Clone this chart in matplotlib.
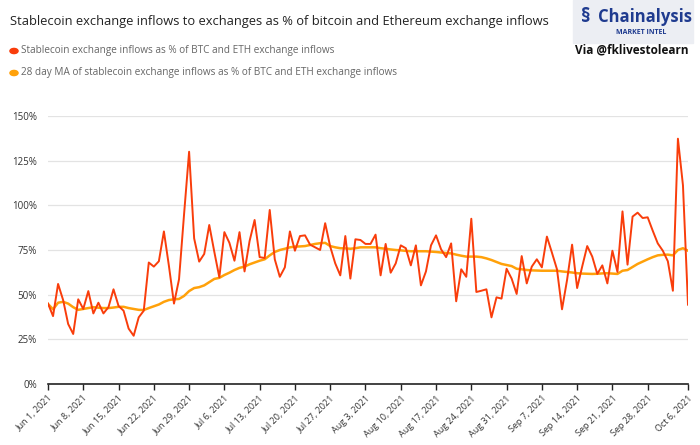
import matplotlib
matplotlib.use("Agg")
import matplotlib.pyplot as plt
import numpy as np
import pandas as pd
from matplotlib.patches import Rectangle, Circle

plt.rcParams['font.family'] = ['Open Sans', 'DejaVu Sans']

start_date = "2021-06-01"
inflow_pct = [45, 38, 56, 47, 33.6, 28, 47.4, 42, 52, 39.5, 45.5, 39.5, 43, 53, 43.7, 41,
              31, 27, 37.3, 41, 68, 65.7, 68.7, 85.4, 66, 45, 58.6, 95, 130, 81.5, 68.5, 72.8,
              89, 74, 59.7, 85, 79, 69, 85, 63, 80, 91.8, 71, 70.5, 97.4, 69.8, 60, 65.3,
              85.4, 74.6, 82.8, 83.2, 78, 76.5, 75, 90, 76.9, 67.5, 60.8, 82.8, 59, 81, 80.6, 78.4,
              78.4, 83.6, 60.8, 78.4, 62.3, 67.5, 77.6, 76, 66.4, 77.6, 55.2, 63, 77.6, 83.2, 75.4, 71,
              78.7, 46.3, 64.2, 60, 92.5, 51.5, 52.2, 53, 37.3, 48.5, 47.8, 64.5, 59, 50.4, 71.6, 56.3,
              65.7, 69.8, 65.3, 82.5, 73.5, 64.2, 41.8, 58.2, 78, 53.7, 65.7, 77.2, 71.3, 61.6, 66.4, 56.3,
              74.6, 62.7, 96.6, 66.8, 93.7, 95.9, 92.9, 93.3, 85.8, 78.7, 74.6, 68.7, 52.2, 137.3, 111.2, 44.4]
ma28_pct = [44.8, 41.8, 45.5, 46, 45, 43, 41.5, 42, 42.5, 43, 42.7, 42.5, 42.5, 42.8, 43.2, 43.2,
            42.5, 42, 41.5, 41.4, 42.5, 43.5, 44.5, 46, 47, 47.4, 47.6, 49.3, 52, 53.7, 54.2, 55.2,
            57, 58.8, 59.4, 61, 62.3, 63.8, 65, 65.7, 67, 68, 69, 69.8, 72, 73.9, 75, 75.7,
            76.5, 76.9, 77, 77.2, 77.8, 78.4, 78.8, 79, 77.2, 76.5, 76, 75.9, 75.7, 76, 76.5, 76.5,
            76.5, 76.5, 76, 75.7, 75.3, 75, 74.8, 74.5, 74.3, 74.3, 74.3, 74.3, 74.1, 73.9, 73.6, 73.3,
            73.1, 72.4, 71.8, 71.3, 71.3, 71.3, 71, 70.3, 69.4, 68.3, 67.2, 66.6, 66, 64.5, 64.2, 63.8,
            63.6, 63.5, 63.4, 63.4, 63.4, 63.4, 63, 62.7, 62.4, 62, 61.8, 61.7, 61.6, 61.7, 61.9, 62,
            61.8, 61.6, 63.4, 63.8, 65.5, 67.2, 68.5, 69.8, 71, 72, 72.3, 72.4, 72, 75, 76, 74.6]
y_ticks = [0, 25, 50, 75, 100, 125, 150]
x_tick_labels = ["Jun 1, 2021", "Jun 8, 2021", "Jun 15, 2021", "Jun 22, 2021", "Jun 29, 2021",
                 "Jul 6, 2021", "Jul 13, 2021", "Jul 20, 2021", "Jul 27, 2021", "Aug 3, 2021",
                 "Aug 10, 2021", "Aug 17, 2021", "Aug 24, 2021", "Aug 31, 2021", "Sep 7, 2021",
                 "Sep 14, 2021", "Sep 21, 2021", "Sep 28, 2021", "Oct 6, 2021"]
x_tick_dates = ["2021-06-01", "2021-06-08", "2021-06-15", "2021-06-22", "2021-06-29",
                "2021-07-06", "2021-07-13", "2021-07-20", "2021-07-27", "2021-08-03",
                "2021-08-10", "2021-08-17", "2021-08-24", "2021-08-31", "2021-09-07",
                "2021-09-14", "2021-09-21", "2021-09-28", "2021-10-06"]

dates = pd.date_range(start_date, periods=len(inflow_pct), freq="D")
tick_pos = pd.to_datetime(x_tick_dates)

RED = "#f93d0b"
ORANGE = "#ffa10a"

fig = plt.figure(figsize=(7, 4.45), dpi=100)
ax = fig.add_axes([48/700, (445-384)/445, 640/700, 268/445])

ax.plot(dates, ma28_pct, color=ORANGE, lw=1.8, zorder=3, solid_joinstyle='round')
ax.plot(dates, inflow_pct, color=RED, lw=1.4, zorder=4, solid_joinstyle='round')

ax.set_xlim(dates[0], dates[-1])
ax.set_ylim(0, 150)
ax.set_yticks(y_ticks)
ax.set_yticklabels([f"{v}%" for v in y_ticks], fontsize=7, color="#333333")
ax.tick_params(axis='y', length=0, pad=8)
ax.grid(axis='y', color="#e3e3e3", lw=0.9)
ax.set_axisbelow(True)

ax.set_xticks(tick_pos)
ax.set_xticklabels(x_tick_labels, rotation=45, ha='right', rotation_mode='anchor',
                   fontsize=6.5, color="#333333")
ax.tick_params(axis='x', length=4, width=1, color="#222222", pad=3)

for s in ['top', 'right', 'left']:
    ax.spines[s].set_visible(False)
ax.spines['bottom'].set_color("#222222")
ax.spines['bottom'].set_linewidth(1.2)

# title and legend
fig.text(10/700, 1 - 21/445, "Stablecoin exchange inflows to exchanges as % of bitcoin and Ethereum exchange inflows",
         fontsize=9.3, color="#222222", va='center', ha='left')
legend_items = [(RED, "Stablecoin exchange inflows as % of BTC and ETH exchange inflows", 51),
                (ORANGE, "28 day MA of stablecoin exchange inflows as % of BTC and ETH exchange inflows", 73)]
for col, txt, ypx in legend_items:
    fig.patches.append(Circle((14/700, 1 - ypx/445), 0.0058, transform=fig.transFigure,
                              color=col, zorder=5))
    fig.text(21/700, 1 - ypx/445, txt, fontsize=7.2, color="#666666", va='center', ha='left')

# logo block
fig.patches.append(Rectangle((573/700, 1 - 43/445), 120/700, 43/445, transform=fig.transFigure,
                             color="#eceef3", zorder=1))
fig.text(598/700, 1 - 17/445, "Chainalysis", fontsize=12, fontweight='bold', color="#1f3b8f",
         va='center', ha='left', zorder=3)
fig.text(641/700, 1 - 33/445, "MARKET INTEL", fontsize=5, fontweight='bold', color="#1f3b8f",
         va='center', ha='center', zorder=3)
fig.text(586/700, 1 - 17/445, "\u00a7", fontsize=14, fontweight='bold', color="#1f3b8f",
         va='center', ha='center', zorder=3)
fig.text(575/700, 1 - 50/445, "Via @fklivestolearn", fontsize=8.5, fontweight='bold', color="#111111",
         va='center', ha='left')

fig.savefig("out.png", dpi=100)
